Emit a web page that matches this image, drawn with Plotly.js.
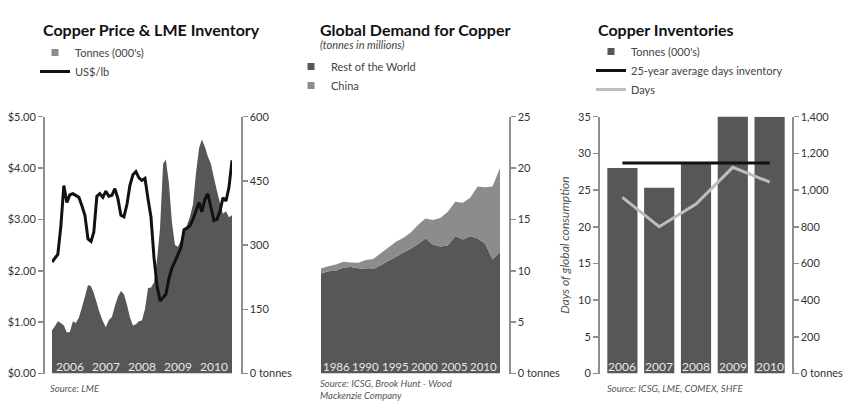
<!DOCTYPE html>
<html><head><meta charset="utf-8">
<script src="https://cdn.plot.ly/plotly-3.0.1.min.js"></script>
<style>html,body{margin:0;padding:0;background:#fff}#chart{width:851px;height:402px}</style>
</head><body><div id="chart"></div>
<script>
// ---------- Panel 1: Copper price & LME inventory (monthly, Jan 2006 - Jan 2011)
const priceUSD = [2.17,2.25,2.32,2.87,3.66,3.33,3.48,3.50,3.47,3.43,3.26,3.08,2.62,2.57,2.75,3.45,3.50,3.43,3.55,3.45,3.47,3.60,3.40,3.08,3.05,3.30,3.66,3.87,3.93,3.81,3.76,3.80,3.40,3.05,2.25,1.72,1.41,1.47,1.54,1.85,2.05,2.18,2.33,2.45,2.80,2.83,2.88,3.00,3.17,3.33,3.15,3.39,3.50,3.26,2.98,3.00,3.16,3.42,3.36,3.62,4.15];
const lmeTonnes = [101,111,122,118,112,96,97,122,118,131,155,180,207,204,188,164,141,122,108,125,132,158,180,193,185,160,132,112,115,122,124,150,200,201,213,265,340,490,500,445,355,300,296,310,332,346,367,395,469,527,547,530,507,490,458,427,399,373,379,365,370];
const priceYearLabels = ['2006','2007','2008','2009','2010'];
const priceTicks = [0,1,2,3,4,5];
const priceTickText = ['$0.00','$1.00','$2.00','$3.00','$4.00','$5.00'];
const lmeTicks = [0,150,300,450,600];
const lmeTickText = ['0 tonnes','150','300','450','600'];

// ---------- Panel 2: Global demand for copper (tonnes in millions)
const demandYears = [1986,1987,1988,1989,1990,1991,1992,1993,1994,1995,1996,1997,1998,1999,2000,2001,2002,2003,2004,2005,2006,2007,2008,2009,2010];
const restOfWorld = [9.73,9.95,10.0,10.32,10.38,10.25,10.18,10.18,10.55,10.95,11.35,11.75,12.15,12.6,13.15,12.56,12.36,12.45,13.38,13.05,13.38,13.15,12.66,11.1,11.85];
const china = [0.49,0.50,0.60,0.55,0.43,0.52,0.87,0.97,1.15,1.30,1.45,1.45,1.55,1.85,1.95,2.38,2.79,3.30,3.35,3.58,3.72,5.05,5.47,7.10,8.15];
const demandLabels = ['1986','1990','1995','2000','2005','2010'];
const demandTicks = [0,5,10,15,20,25];
const demandTickText = ['0 tonnes','5','10','15','20','25'];

// ---------- Panel 3: Copper inventories
const invYears = ['2006','2007','2008','2009','2010'];
const invTonnes = [1120,1012,1145,1410,1400];
const invDays = [24.0,20.0,23.1,28.1,26.1];
const avgDays = 28.7;
const tonnesTicks = [0,200,400,600,800,1000,1200,1400];
const tonnesTickText = ['0 tonnes','200','400','600','800','1,000','1,200','1,400'];
const daysTicks = [0,5,10,15,20,25,30,35];

// month positions for panel 1
const months = priceUSD.map((_, i) => {
  const y = 2006 + Math.floor(i / 12), m = (i % 12) + 1;
  return y + '-' + String(m).padStart(2, '0') + '-01';
});

const W = 851, H = 402;
const fx = x => x / W, fy = y => 1 - y / H;
const yDom = [fy(373.5), fy(116.7)];
const FONT = 'Lato, "Open Sans", sans-serif';
const DARK = '#575757', LIGHT = '#8c8c8c', AXC = '#8f8f8f';

const axisBase = {
  showgrid: false, zeroline: false, showline: true, linecolor: AXC, linewidth: 1.5,
  ticks: 'outside', ticklen: 5, tickwidth: 1.5, tickcolor: AXC,
  tickfont: {family: FONT, size: 11, color: '#333'}, fixedrange: true
};
const hiddenX = {visible: false, showgrid: false, zeroline: false, fixedrange: true};

const traces = [
  // panel 1
  {x: months, y: lmeTonnes, xaxis: 'x', yaxis: 'y', type: 'scatter', mode: 'none',
   fill: 'tozeroy', fillcolor: DARK, showlegend: false, hoverinfo: 'skip'},
  {x: [null], y: [null], xaxis: 'x', yaxis: 'y', type: 'scatter', mode: 'markers',
   marker: {symbol: 'square', size: 7, color: LIGHT}, name: "Tonnes (000's)", legend: 'legend'},
  {x: months, y: priceUSD, xaxis: 'x', yaxis: 'y2', type: 'scatter', mode: 'lines',
   line: {color: '#111', width: 3}, name: 'US$/lb', legend: 'legend'},
  // panel 2
  {x: demandYears, y: restOfWorld, xaxis: 'x2', yaxis: 'y3', type: 'scatter', mode: 'none',
   stackgroup: 'demand', fillcolor: DARK, showlegend: false, hoverinfo: 'skip'},
  {x: demandYears, y: china, xaxis: 'x2', yaxis: 'y3', type: 'scatter', mode: 'none',
   stackgroup: 'demand', fillcolor: LIGHT, showlegend: false, hoverinfo: 'skip'},
  {x: [null], y: [null], xaxis: 'x2', yaxis: 'y3', type: 'scatter', mode: 'markers',
   marker: {symbol: 'square', size: 7, color: DARK}, name: 'Rest of the World', legend: 'legend2'},
  {x: [null], y: [null], xaxis: 'x2', yaxis: 'y3', type: 'scatter', mode: 'markers',
   marker: {symbol: 'square', size: 7, color: LIGHT}, name: 'China', legend: 'legend2'},
  // panel 3
  {x: invYears, y: invTonnes, xaxis: 'x3', yaxis: 'y4', type: 'bar',
   marker: {color: DARK}, showlegend: false, hoverinfo: 'skip'},
  {x: [null], y: [null], xaxis: 'x3', yaxis: 'y5', type: 'scatter', mode: 'markers',
   marker: {symbol: 'square', size: 7, color: DARK}, name: "Tonnes (000's)", legend: 'legend3'},
  {x: [invYears[0], invYears[invYears.length - 1]], y: [avgDays, avgDays], xaxis: 'x3', yaxis: 'y5',
   type: 'scatter', mode: 'lines', line: {color: '#111', width: 3},
   name: '25-year average days inventory', legend: 'legend3'},
  {x: invYears, y: invDays, xaxis: 'x3', yaxis: 'y5', type: 'scatter', mode: 'lines',
   line: {color: '#bdbdbd', width: 3}, name: 'Days', legend: 'legend3'}
];

const legendBase = {
  xanchor: 'left', yanchor: 'top', bgcolor: 'rgba(0,0,0,0)', borderwidth: 0,
  font: {family: FONT, size: 11, color: '#444'}, itemclick: false, itemdoubleclick: false,
  tracegroupgap: 0, traceorder: 'normal'
};

const annotations = [];
const txt = (text, x, y, opts) => annotations.push(Object.assign({
  text, x, y, xref: 'paper', yref: 'paper', showarrow: false,
  xanchor: 'left', yanchor: 'middle', font: {family: FONT, size: 11, color: '#333'}
}, opts || {}));

// titles
txt('Copper Price & LME Inventory', fx(41), fy(30), {font: {family: FONT, size: 16, color: '#111', weight: 700}});
txt('Global Demand for Copper', fx(318), fy(30), {font: {family: FONT, size: 16, color: '#111', weight: 700}});
txt('(tonnes in millions)', fx(318), fy(45), {font: {family: FONT, size: 11, color: '#444', style: 'italic'}});
txt('Copper Inventories', fx(596), fy(30), {font: {family: FONT, size: 16, color: '#111', weight: 700}});

// in-plot year labels
priceYearLabels.forEach(yr => txt(yr, yr + '-07-01', fy(366), {xref: 'x', xanchor: 'center',
  font: {family: FONT, size: 12, color: '#e8e8e8'}}));
const demandLabelPx = [336, 365.5, 395, 424.5, 454, 483.5];
demandLabels.forEach((lab, i) => txt(lab, fx(demandLabelPx[i]), fy(366), {xanchor: 'center',
  font: {family: FONT, size: 11.5, color: '#e8e8e8'}}));
invYears.forEach((yr, i) => txt(yr, i, fy(366), {xref: 'x3', xanchor: 'center',
  font: {family: FONT, size: 12, color: '#e8e8e8'}}));

// sources
const srcFont = {family: FONT, size: 9.5, color: '#555', style: 'italic'};
txt('Source: LME', fx(48), fy(388), {font: srcFont});
txt('Source: ICSG, Brook Hunt - Wood<br>Mackenzie Company', fx(318), fy(376), {font: srcFont, yanchor: 'top', align: 'left'});
txt('Source: ICSG, LME, COMEX, SHFE', fx(605), fy(388), {font: srcFont});

const layout = {
  width: W, height: H, margin: {l: 0, r: 0, t: 0, b: 0, pad: 0, autoexpand: false},
  paper_bgcolor: '#fff', plot_bgcolor: 'rgba(0,0,0,0)', bargap: 0.18,
  font: {family: FONT, color: '#333'},
  xaxis: Object.assign({}, hiddenX, {domain: [fx(52), fx(232)], type: 'date',
    range: ['2006-01-01', '2011-01-01'], autorange: false, anchor: 'y'}),
  yaxis: Object.assign({}, axisBase, {domain: yDom, anchor: 'free', position: fx(241), side: 'right',
    range: [0, 600], tickvals: lmeTicks, ticktext: lmeTickText}),
  yaxis2: Object.assign({}, axisBase, {overlaying: 'y', anchor: 'free', position: fx(43), side: 'left',
    range: [0, 5], tickvals: priceTicks, ticktext: priceTickText}),
  xaxis2: Object.assign({}, hiddenX, {domain: [fx(321), fx(500)], range: [1986, 2010], autorange: false, anchor: 'y3'}),
  yaxis3: Object.assign({}, axisBase, {domain: yDom, anchor: 'free', position: fx(509), side: 'right',
    range: [0, 25], tickvals: demandTicks, ticktext: demandTickText}),
  xaxis3: Object.assign({}, hiddenX, {domain: [fx(604), fx(788)], type: 'category',
    categoryorder: 'array', categoryarray: invYears, range: [-0.5, invYears.length - 0.5], autorange: false, anchor: 'y4'}),
  yaxis4: Object.assign({}, axisBase, {domain: yDom, anchor: 'free', position: fx(792), side: 'right',
    range: [0, 1400], tickvals: tonnesTicks, ticktext: tonnesTickText}),
  yaxis5: Object.assign({}, axisBase, {overlaying: 'y4', anchor: 'free', position: fx(598), side: 'left',
    range: [0, 35], tickvals: daysTicks,
    title: {text: 'Days of global consumption', standoff: 4,
      font: {family: FONT, size: 12, color: '#555', style: 'italic'}}}),
  legend: Object.assign({}, legendBase, {x: fx(35), y: fy(38)}),
  legend2: Object.assign({}, legendBase, {x: fx(291), y: fy(52)}),
  legend3: Object.assign({}, legendBase, {x: fx(591), y: fy(37)}),
  annotations,
  showlegend: true
};

Plotly.newPlot('chart', traces, layout, {displayModeBar: false, staticPlot: true});
</script>
</body></html>
